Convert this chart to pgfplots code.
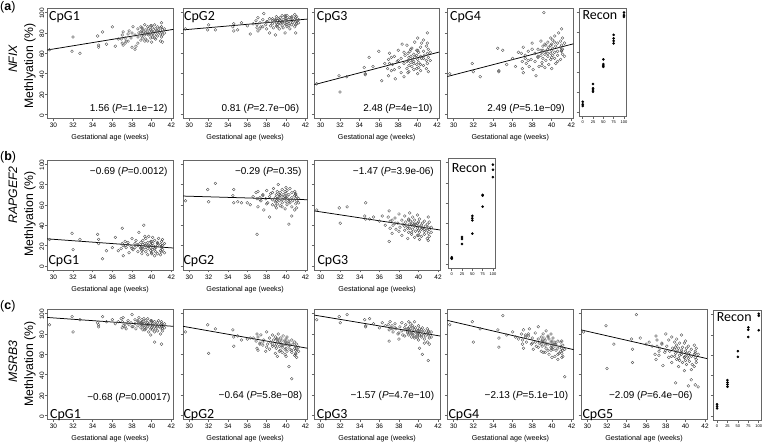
\documentclass[border=0pt]{standalone}
\usepackage{pgfplots}
\usepackage{pgfplotstable}
\pgfplotsset{compat=1.18}
\usepackage{fontspec}
\setmainfont{Liberation Sans}
\newfontfamily\cpgfont{Carlito}

\pgfplotstableread{
x a1 a2 a3 a4
29.6 63.5 84 30 40
31.9 62 83 38 50
32.0 76 88 22 42
32.7 60 83 37 37
34.5 77 86 46 65
34.6 68 82 40 43
34.6 66 89 39 42
35.0 81 83 56 63
35.4 69 90 47 49
36.0 86 87 62 55
36.3 67 79 33 47
36.9 74 92 45 60
37.0 78 88 54 45
37.0 70 85 38 52
37.1 81 95 50 66
37.1 68 82 60 41
37.3 75 90 43 58
37.4 72 86 49 50
37.6 79 93 57 62
37.7 82 99 35 47
37.9 75 88 52 54
38.0 66 84 63 70
38.1 86 91 46 44
38.3 64 80 41 60
38.3 78 94 55 52
38.4 67 87 69 38
38.6 84 92 50 64
38.6 76 89 37 56
38.7 80 85 58 47
38.9 73 93 45 72
38.9 86 78 68 58
39.0 82 90 53 61
39.0 77 96 60 51
39.1 84 88 48 67
39.1 79 92 56 63
39.1 75 86 42 55
39.2 81 94 62 100
39.3 88 90 51 59
39.3 78 84 57 46
39.4 83 95 47 68
39.4 74 89 54 62
39.4 80 92 65 53
39.6 86 87 59 71
39.6 81 97 44 64
39.6 72 91 52 57
39.7 78 85 71 49
39.7 84 93 56 66
39.9 80 89 49 60
39.9 87 96 63 75
39.9 75 80 58 54
40.0 82 92 40 63
40.0 78 88 54 69
40.0 71 94 75 45
40.1 85 90 61 58
40.1 80 86 51 73
40.1 76 97 46 65
40.3 88 93 66 61
40.3 82 89 57 77
40.3 78 91 43 55
40.4 74 84 70 67
40.4 84 95 55 50
40.6 80 92 62 70
40.6 86 88 48 62
40.6 77 96 73 58
40.7 83 90 58 80
40.9 79 93 53 66
40.9 72 86 67 54
40.9 85 98 45 72
41.0 90 91 80 84
41.0 81 95 60 63
41.0 76 88 50 68
41.1 83 92 64 59
41.1 78 96 56 75
41.1 71 89 42 64
41.3 84 93 61 70
41.3 80 90 53 57
37.6 72 86 44 53
38.0 80 91 53 64
38.6 70 94 61 57
39.0 85 87 41 48
39.3 72 93 64 69
39.6 79 90 50 60
40.0 87 94 63 56
40.3 75 87 49 71
40.6 82 95 55 52
41.0 86 80 70 62
36.6 74 89 50 61
37.3 70 84 56 55
38.9 81 92 52 63
39.9 83 97 45 68
}\tabA

\pgfplotstableread{
x b1 b2 b3
29.6 26 64 55
31.9 32 75 57
32.0 16 63 42
32.7 26 81 58
34.5 31 69 49
34.6 22 62 62
34.6 26 75 46
35.0 7 63 46
35.4 15 62 48
36.0 18 62 44
36.3 28 60 49
36.9 17 72 48
37.0 37 31 24
37.0 22 66 54
37.1 10 73 37
37.1 20 58 44
37.3 24 67 32
37.4 18 64 40
37.6 21 70 47
37.7 13 55 36
37.9 19 66 42
38.0 27 74 51
38.1 16 62 38
38.3 22 68 45
38.3 18 48 30
38.4 25 71 41
38.6 14 65 49
38.6 20 60 35
38.7 33 76 43
38.9 17 67 27
38.9 23 63 39
39.0 19 70 46
39.0 12 57 33
39.1 21 73 41
39.1 25 66 52
39.1 16 61 37
39.2 40 80 44
39.3 18 68 31
39.3 22 64 40
39.4 14 72 48
39.4 20 59 36
39.4 27 69 42
39.6 17 75 28
39.6 23 65 39
39.6 11 62 45
39.7 19 70 34
39.7 29 67 41
39.9 15 56 37
39.9 21 73 50
39.9 18 66 30
40.0 24 71 43
40.0 13 63 35
40.0 20 77 39
40.1 28 68 26
40.1 16 60 46
40.1 22 74 33
40.3 10 65 40
40.3 19 41 36
40.3 25 70 29
40.4 14 62 42
40.4 18 76 37
40.6 23 67 31
40.6 12 58 44
40.6 20 72 34
40.7 27 64 39
40.9 15 69 27
40.9 21 55 41
40.9 11 73 35
41.0 18 66 48
41.0 24 61 32
41.0 14 70 38
41.1 20 64 29
41.1 16 68 43
41.1 26 57 36
41.3 22 66 33
41.3 13 62 38
37.6 23 69 42
38.0 17 61 34
38.6 21 72 39
39.0 15 64 45
39.3 29 70 33
39.6 20 58 41
40.0 12 67 30
40.3 17 63 38
40.6 22 49 36
41.0 19 71 25
36.6 15 68 40
37.3 20 65 45
38.9 18 59 37
39.9 24 68 42
}\tabB

\pgfplotstableread{
x c1 c2 c3 c4 c5
29.6 89 82 94 89 82
31.9 97 89 97 92 88
32.0 82 61 91 72 46
32.7 94 85 99 85 70
34.5 91 84 94 84 75
34.6 87 68 88 76 65
34.6 89 77 87 67 52
35.0 97 78 95 98 99
35.4 92 74 90 79 76
36.0 94 75 86 82 70
36.3 90 76 91 77 72
36.9 95 73 89 80 60
37.0 86 80 84 74 78
37.0 92 66 73 70 55
37.1 88 64 92 84 68
37.1 96 77 86 66 74
37.3 90 71 88 77 59
37.4 85 79 82 72 66
37.6 93 69 90 78 71
37.7 89 74 85 85 49
37.9 91 63 80 70 62
38.0 99 82 75 76 80
38.1 87 70 87 65 68
38.3 94 76 83 81 57
38.3 90 65 91 72 74
38.4 85 72 79 68 63
38.6 92 79 86 75 52
38.6 88 68 84 87 77
38.7 96 74 89 71 66
38.9 86 61 81 63 58
38.9 91 77 85 77 72
39.0 94 70 92 73 61
39.0 89 66 79 68 32
39.1 84 75 84 80 69
39.1 92 72 87 72 55
39.1 88 58 82 62 75
39.2 95 80 90 76 63
39.3 90 68 77 69 48
39.3 86 73 83 74 66
39.4 93 64 86 83 59
39.4 89 71 80 66 71
39.4 85 76 88 71 54
39.6 91 67 84 78 64
39.6 87 62 78 64 60
39.6 95 74 92 70 79
39.7 82 69 82 75 52
39.7 90 78 86 60 67
39.9 88 65 76 72 57
39.9 93 72 83 67 71
39.9 79 60 80 80 44
40.0 89 70 88 69 63
40.0 86 75 74 57 58
40.0 92 66 81 73 73
40.1 84 63 85 65 50
40.1 90 71 79 70 66
40.1 88 77 66 76 61
40.3 72 68 84 58 56
40.3 87 48 77 68 29
40.3 92 73 82 72 68
40.4 85 65 60 64 62
40.4 89 69 86 70 53
40.6 83 36 80 55 58
40.6 91 74 75 66 35
40.6 87 62 83 73 65
40.7 93 70 78 61 50
40.9 86 66 81 68 60
40.9 80 59 72 63 69
40.9 89 72 85 72 48
41.0 70 64 54 57 30
41.0 87 68 79 66 57
41.0 92 61 83 61 63
41.1 85 70 76 69 52
41.1 88 65 80 64 66
41.1 83 57 70 58 55
41.3 90 67 82 38 28
41.3 86 63 77 65 60
37.6 91 72 86 80 70
38.0 87 67 81 71 64
38.6 93 70 78 67 58
39.0 91 75 85 74 67
39.3 84 63 80 62 56
39.6 89 69 76 77 62
40.0 93 58 83 66 54
40.3 82 71 79 70 59
40.6 88 64 71 60 45
41.0 90 60 82 73 61
36.6 92 76 88 75 68
37.3 87 70 85 79 63
38.9 90 68 82 70 65
39.9 85 73 78 64 57
}\tabC

\pgfplotstableread{
x y
0 10.6
0 8
0 6.3
25 28.3
25 24
25 22.3
25 20.6
50 53
50 48.3
50 46.6
50 45.6
75 77.6
75 74
75 71.6
75 69
100 100
100 97.3
100 95.6
}\recA

\pgfplotstableread{
x y
0 7
0 5.5
0 6
25 27
25 25
25 20
50 47.7
50 45.3
50 43.3
50 30.3
75 68.3
75 67.5
75 56.7
100 98
100 93
100 85.7
}\recB

\pgfplotstableread{
x y
0 11.5
0 9.5
0 7.5
25 35.4
25 33
25 31
25 28.9
50 64
50 58.4
75 87.5
75 85.2
75 78
100 101
100 99
100 84.6
}\recC

\pgfplotsset{
  base/.style={
    scale only axis, height=110bp, anchor=south west,
    ymin=-4, ymax=104, ytick={0,20,40,60,80,100}, yticklabels={},
    axis line style={black!60, line width=0.6bp},
    every tick/.style={black!60, line width=0.5bp},
    tick align=outside, major tick length=2.5bp, tick pos=left,
    tick label style={font=\fontsize{6.5}{7}\selectfont},
    /pgf/number format/assume math mode=true,
    xticklabel style={inner sep=0pt, anchor=north, yshift=-2bp},
  },
  sc/.style={base, width=#1, xmin=29.35, xmax=42.2, xtick={30,32,...,42},
    xlabel={Gestational age (weeks)},
    xlabel style={font=\fontsize{7.2}{8}\selectfont, inner sep=0pt, anchor=center,
      at={(axis description cs:0.5,-0.175)}},
  },
  first/.style={yticklabels={0,20,40,60,80,100},
    yticklabel style={rotate=90, anchor=south, inner sep=0pt, xshift=-1bp}},
  rec/.style={base, width=#1, xmin=-9, xmax=105, xtick={0,25,50,75,100},
    xticklabel style={font=\fontsize{4}{4.5}\selectfont}},
  pts/.style={only marks, mark=o, mark size=1.4bp,
    mark options={draw=black!70, line width=0.35bp}},
  rpts/.style={only marks, mark=*, mark size=1.1bp, mark options={fill=black, draw=black}},
  reg/.style={black, line width=0.75bp, no marks},
}

\newcommand{\ann}{\fontsize{10}{12}\selectfont}
\newcommand{\cpg}{\cpgfont\fontsize{14}{16}\selectfont}
\newcommand{\ylab}{\fontsize{12.3}{14}\selectfont}

\begin{document}
\begin{tikzpicture}
\path[use as bounding box, fill=white] (0,0) rectangle (762bp,443bp);

% ---------- row a : NFIX ----------
\begin{axis}[sc=126.3bp, at={(47bp,324.5bp)}, first]
\addplot[pts] table[x=x,y=a1]{\tabA};
\addplot[reg] coordinates {(29.35,63.2) (42.2,83.5)};
\end{axis}
\begin{axis}[sc=124.3bp, at={(183bp,324.5bp)}]
\addplot[pts] table[x=x,y=a2]{\tabA};
\addplot[reg] coordinates {(29.35,83.0) (42.2,93.6)};
\end{axis}
\begin{axis}[sc=124.7bp, at={(314.3bp,324.5bp)}]
\addplot[pts] table[x=x,y=a3]{\tabA};
\addplot[reg] coordinates {(29.35,29.2) (42.2,61.2)};
\end{axis}
\begin{axis}[sc=126bp, at={(447.3bp,324.5bp)}]
\addplot[pts] table[x=x,y=a4]{\tabA};
\addplot[reg] coordinates {(29.35,37.2) (42.2,69.3)};
\end{axis}
\begin{axis}[rec=47bp, height=107.8bp, at={(579bp,326.7bp)}]
\addplot[rpts] table[x=x,y=y]{\recA};
\end{axis}

% ---------- row b : RAPGEF2 ----------
\begin{axis}[sc=126.3bp, at={(47bp,173bp)}, first]
\addplot[pts] table[x=x,y=b1]{\tabB};
\addplot[reg] coordinates {(29.35,26.6) (42.2,17.6)};
\end{axis}
\begin{axis}[sc=124.3bp, at={(183bp,173bp)}]
\addplot[pts] table[x=x,y=b2]{\tabB};
\addplot[reg] coordinates {(29.35,68.6) (42.2,65.0)};
\end{axis}
\begin{axis}[sc=125.7bp, at={(314.3bp,173bp)}]
\addplot[pts] table[x=x,y=b3]{\tabB};
\addplot[reg] coordinates {(29.35,54.0) (42.2,35.3)};
\end{axis}
\begin{axis}[rec=47bp, at={(448bp,174.5bp)}]
\addplot[rpts] table[x=x,y=y]{\recB};
\end{axis}

% ---------- row c : MSRB3 ----------
\begin{axis}[sc=126.3bp, at={(47bp,23.5bp)}, first]
\addplot[pts] table[x=x,y=c1]{\tabC};
\addplot[reg] coordinates {(29.35,96.2) (42.2,87.5)};
\end{axis}
\begin{axis}[sc=124.3bp, at={(183bp,23.5bp)}]
\addplot[pts] table[x=x,y=c2]{\tabC};
\addplot[reg] coordinates {(29.35,87.5) (42.2,66.0)};
\end{axis}
\begin{axis}[sc=125.7bp, at={(314.3bp,23.5bp)}]
\addplot[pts] table[x=x,y=c3]{\tabC};
\addplot[reg] coordinates {(29.35,98.5) (42.2,78.0)};
\end{axis}
\begin{axis}[sc=126.3bp, at={(447.3bp,23.5bp)}]
\addplot[pts] table[x=x,y=c4]{\tabC};
\addplot[reg] coordinates {(29.35,93.3) (42.2,64.6)};
\end{axis}
\begin{axis}[sc=126bp, at={(581bp,23.5bp)}]
\addplot[pts] table[x=x,y=c5]{\tabC};
\addplot[reg] coordinates {(29.35,84.0) (42.2,55.8)};
\end{axis}
\begin{axis}[rec=47.5bp, height=109.3bp, at={(713.3bp,23bp)}]
\addplot[rpts] table[x=x,y=y]{\recC};
\end{axis}

% ---------- annotations ----------
\begin{scope}[every node/.style={anchor=base east, inner sep=0pt, font=\ann}]
\node at (167.7bp,331.9bp) {1.56 (\textit{P}=1.1e−12)};
\node at (299.3bp,331.9bp) {0.81 (\textit{P}=2.7e−06)};
\node at (432.7bp,331.9bp) {2.48 (\textit{P}=4e−10)};
\node at (565bp,331.9bp) {2.49 (\textit{P}=5.1e−09)};
\node at (167.7bp,268.9bp) {−0.69 (\textit{P}=0.0012)};
\node at (301.7bp,268.9bp) {−0.29 (\textit{P}=0.35)};
\node at (434bp,268.9bp) {−1.47 (\textit{P}=3.9e-06)};
\node at (170.7bp,42.7bp) {−0.68 (\textit{P}=0.00017)};
\node at (302.3bp,44.9bp) {−0.64 (\textit{P}=5.8e−08)};
\node at (434.3bp,44.9bp) {−1.57 (\textit{P}=4.7e−10)};
\node at (568.3bp,44.9bp) {−2.13 (\textit{P}=5.1e−10)};
\node at (692.7bp,44.9bp) {−2.09 (\textit{P}=6.4e−06)};
\end{scope}

\begin{scope}[every node/.style={anchor=base west, inner sep=0pt, font=\cpg}]
\node at (49bp,422.5bp) {CpG1};
\node at (184bp,422.5bp) {CpG2};
\node at (316.7bp,422.5bp) {CpG3};
\node at (450bp,422.5bp) {CpG4};
\node at (582.3bp,423.5bp) {Recon};
\node at (48.3bp,178.5bp) {CpG1};
\node at (183.3bp,178.5bp) {CpG2};
\node at (317.3bp,178.5bp) {CpG3};
\node at (451.7bp,270.2bp) {Recon};
\node at (50bp,25bp) {CpG1};
\node at (183.3bp,25bp) {CpG2};
\node at (316.7bp,25bp) {CpG3};
\node at (448.3bp,25bp) {CpG4};
\node at (582.3bp,25bp) {CpG5};
\node at (716.7bp,121.2bp) {Recon};
\end{scope}

% ---------- y labels ----------
\begin{scope}[every node/.style={rotate=90, inner sep=0pt, anchor=center}]
\node[font=\ylab\itshape] at (13bp,384bp) {NFIX};
\node[font=\ylab] at (30bp,377bp) {Methlyation (\%)};
\node[font=\ylab\itshape] at (13bp,248bp) {RAPGEF2};
\node[font=\ylab] at (30bp,229bp) {Methlyation (\%)};
\node[font=\ylab\itshape] at (13bp,81.3bp) {MSRB3};
\node[font=\ylab] at (30bp,79bp) {Methlyation (\%)};
\end{scope}

\begin{scope}[every node/.style={anchor=north west, inner sep=0pt, font=\fontsize{12.5}{14}\selectfont}]
\node at (0bp,441.5bp) {(\textbf{a})};
\node at (0bp,292bp) {(\textbf{b})};
\node at (0bp,142.5bp) {(\textbf{c})};
\end{scope}
\end{tikzpicture}
\end{document}
